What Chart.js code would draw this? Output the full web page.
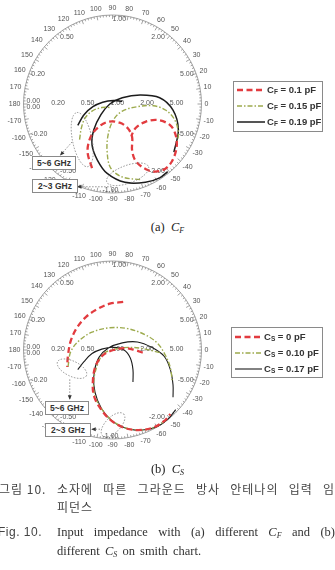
<!DOCTYPE html>
<html>
<head>
<meta charset="utf-8">
<script src="https://cdn.jsdelivr.net/npm/chart.js@4/dist/chart.umd.min.js"></script>
<style>
  body { margin: 0; background: #fff; width: 335px; height: 570px; overflow: hidden; position: relative;
         font-family: "Liberation Sans", Arial, sans-serif; color: #333; }
  canvas { position: absolute; left: 0; }
  #cf { top: 0; }
  #cs { top: 245px; }
  .legend { position: absolute; border: 1px solid #8a8a8a; }
  .row { position: absolute; height: 12px; line-height: 12px; font-size: 9.5px; font-weight: bold; white-space: nowrap; color: #333; }
  .row sub { font-size: 6.5px; vertical-align: -1px; }
  .box { position: absolute; background: #fff; border: 1px solid #8a8a8a; font-size: 8.5px; font-weight: bold;
         text-align: center; line-height: 12px; height: 12px; color: #333; }
  .cap { position: absolute; left: 0; width: 335px; text-align: center; font-family: "Liberation Serif", serif; font-size: 12.5px; line-height: 15px; color: #222; }
  .cap sub, .en sub { font-size: 8px; vertical-align: -2px; }
  .ko { position: absolute; font-family: "Noto Sans CJK KR", sans-serif; font-size: 12px; line-height: 16px; color: #444; letter-spacing: 1px; white-space: nowrap; }
  .en { position: absolute; font-family: "Liberation Serif", serif; font-size: 12.5px; line-height: 16px; color: #333; white-space: nowrap; }
  .just { width: 278px; text-align: justify; text-align-last: justify; }
</style>
</head>
<body>
<canvas id="cf" width="335" height="220"></canvas>
<canvas id="cs" width="335" height="220"></canvas>

<div class="legend" style="left:233px;top:81px;width:88px;height:49px;"></div>
<div class="row" style="left:267px;top:84px;">C<sub>F</sub> = 0.1 pF</div>
<div class="row" style="left:267px;top:100px;">C<sub>F</sub> = 0.15 pF</div>
<div class="row" style="left:267px;top:116px;">C<sub>F</sub> = 0.19 pF</div>

<div class="legend" style="left:231px;top:327px;width:90px;height:49px;"></div>
<div class="row" style="left:264px;top:331px;">C<sub>S</sub> = 0 pF</div>
<div class="row" style="left:264px;top:347px;">C<sub>S</sub> = 0.10 pF</div>
<div class="row" style="left:264px;top:363px;">C<sub>S</sub> = 0.17 pF</div>

<div class="box" style="left:32px;top:156px;width:42px;">5~6 GHz</div>
<div class="box" style="left:32px;top:179px;width:44px;">2~3 GHz</div>
<div class="box" style="left:45px;top:401px;width:42px;">5~6 GHz</div>
<div class="box" style="left:45px;top:423px;width:44px;">2~3 GHz</div>

<div class="cap" style="top:220px;">(a)&nbsp; <i>C<sub>F</sub></i></div>
<div class="cap" style="top:462px;">(b)&nbsp; <i>C<sub>S</sub></i></div>

<div class="ko" style="left:-1px;top:481px;">그림 10.</div>
<div class="ko just" style="left:57px;top:481px;">소자에 따른 그라운드 방사 안테나의 입력 임</div>
<div class="ko" style="left:57px;top:499px;">피던스</div>
<div class="ko" style="left:-2px;top:524px;font-family:'Liberation Sans',Arial,sans-serif;letter-spacing:0.5px;">Fig. 10.</div>
<div class="en just" style="left:57px;top:524px;">Input impedance with (a) different <i>C<sub>F</sub></i> and (b)</div>
<div class="en" style="left:57px;top:543px;word-spacing:2px;">different <i>C<sub>S</sub></i> on smith chart.</div>

<script>
const cfRedRe   = [-0.23, -0.28, -0.25, -0.17, -0.05, 0.08, 0.17, 0.22, 0.22, 0.26, 0.37, 0.48, 0.59, 0.67, 0.72, 0.71, 0.65, 0.51, 0.37, 0.26, 0.21];
const cfRedIm   = [-0.72, -0.54, -0.38, -0.27, -0.20, -0.21, -0.27, -0.37, -0.52, -0.64, -0.73, -0.76, -0.73, -0.64, -0.49, -0.35, -0.24, -0.18, -0.20, -0.27, -0.36];
const cfGreenRe = [0.31, 0.11, -0.02, -0.06, -0.05, 0.01, 0.11, 0.28, 0.46, 0.60, 0.70, 0.74, 0.72, null, -0.37, -0.35, -0.31, -0.23, -0.12, -0.01];
const cfGreenIm = [-0.85, -0.82, -0.72, -0.54, -0.35, -0.18, -0.08, -0.03, -0.02, -0.07, -0.18, -0.33, -0.46, null, -0.40, -0.27, -0.16, -0.08, -0.04, -0.04];
const cfBlackRe = [0.62, 0.53, 0.37, 0.14, -0.06, -0.17, -0.23, -0.21, -0.13, -0.03, 0.11, 0.31, 0.53, 0.68, 0.74, 0.69, null, 0.11, 0.01, -0.11, -0.22, -0.32, -0.39];
const cfBlackIm = [-0.76, -0.83, -0.88, -0.88, -0.78, -0.63, -0.46, -0.29, -0.12, 0.00, 0.07, 0.10, 0.07, -0.07, -0.29, -0.54, null, 0.03, 0.04, 0.02, -0.03, -0.12, -0.24];

const csRedRe   = [0.12, -0.03, -0.17, -0.30, -0.40, -0.47, -0.50, -0.51, null, 0.34, 0.25, 0.14, 0.01, -0.11, -0.19, -0.22, -0.21, -0.14, -0.03, 0.12, 0.29, 0.46, 0.59, 0.65];
const csRedIm   = [0.54, 0.52, 0.46, 0.37, 0.25, 0.10, -0.06, -0.19, null, -0.03, 0.00, 0.02, 0.00, -0.06, -0.18, -0.34, -0.51, -0.65, -0.78, -0.87, -0.90, -0.87, -0.79, -0.72];
const csGreenRe = [-0.50, -0.47, -0.38, -0.23, -0.03, 0.17, 0.37, 0.51, 0.60, 0.65, 0.67, null, 0.53, 0.37, 0.20, 0.03, -0.10, -0.17, -0.21, -0.20, -0.13, -0.02, 0.13, 0.30, 0.47, 0.60];
const csGreenIm = [-0.19, -0.02, 0.10, 0.20, 0.25, 0.24, 0.17, 0.07, -0.07, -0.20, -0.34, null, -0.03, 0.01, 0.03, 0.01, -0.04, -0.17, -0.34, -0.51, -0.65, -0.78, -0.87, -0.90, -0.87, -0.79];
const csBlackRe = [-0.39, -0.32, -0.23, -0.12, 0.01, 0.13, 0.20, 0.23, 0.23, null, 0.68, 0.68, 0.65, 0.58, 0.44, 0.28, 0.11, -0.05, -0.15, -0.20, -0.21, -0.17, -0.08, 0.06, 0.26, 0.48, 0.62, 0.71];
const csBlackIm = [-0.22, -0.13, -0.04, 0.01, 0.03, 0.00, -0.09, -0.22, -0.36, null, -0.53, -0.39, -0.22, -0.07, 0.03, 0.09, 0.08, 0.02, -0.08, -0.22, -0.39, -0.56, -0.72, -0.84, -0.90, -0.87, -0.78, -0.67];

const cfValues = ['0.1', '0.15', '0.19'];
const csValues = ['0', '0.10', '0.17'];

// smith chart labels
const angleTicks = [0, 10, 20, 30, 40, 50, 60, 70, 80, 90, 100, 110, 120, 130, 140, 150, 160, 170, 180,
  -170, -160, -150, -140, -130, -120, -110, -100, -90, -80, -70, -60, -50, -40, -30, -20, -10];
const rTicks = ['0.20', '0.50', '1.00', '2.00', '5.00'];

const smithPlugin = {
  id: 'smith',
  beforeDatasetsDraw(chart, args, o) {
    const ctx = chart.ctx, xs = chart.scales.x, ys = chart.scales.y;
    const cx = xs.getPixelForValue(0), cy = ys.getPixelForValue(0);
    const R = xs.getPixelForValue(1) - cx;
    ctx.save();
    ctx.strokeStyle = '#8c8c8c';
    ctx.lineWidth = 0.8;
    ctx.beginPath();
    ctx.arc(cx, cy, R, 0, 2 * Math.PI);
    ctx.stroke();
    ctx.beginPath();
    for (let a = 0; a < 360; a += 2) {
      const t = a * Math.PI / 180, len = a % 10 === 0 ? 4 : 2;
      ctx.moveTo(cx + R * Math.cos(t), cy - R * Math.sin(t));
      ctx.lineTo(cx + (R - len) * Math.cos(t), cy - (R - len) * Math.sin(t));
    }
    ctx.stroke();

    ctx.fillStyle = '#555';
    ctx.font = '7px "Liberation Sans", Arial, sans-serif';
    ctx.textBaseline = 'middle';
    ctx.textAlign = 'center';
    angleTicks.forEach(a => {
      const t = a * Math.PI / 180, s = String(a), w = ctx.measureText(s).width;
      const r = R + 3 + Math.abs(Math.cos(t)) * w / 2 + Math.abs(Math.sin(t)) * 3.5;
      ctx.fillText(s, cx + r * Math.cos(t), cy - r * Math.sin(t));
    });

    // resistance labels on the real axis
    ctx.textAlign = 'left';
    rTicks.forEach(s => {
      const r = parseFloat(s), g = (r - 1) / (r + 1);
      ctx.fillText(s, cx + g * R - 2, cy - 1);
    });
    ctx.fillText('0.00', cx - R + 3, cy - 3);
    ctx.fillText('0.00', cx - R + 3, cy + 3);

    // reactance labels on the rim
    rTicks.forEach(s => {
      const x = parseFloat(s), t = Math.PI - 2 * Math.atan(x);
      const px = cx + R * Math.cos(t), dy = R * Math.sin(t);
      if (x > 1) {
        ctx.textAlign = 'right';
        ctx.fillText(s, px - 1, cy - dy + 4);
        ctx.fillText('-' + s, px - 1, cy + dy - 4);
      } else if (x === 1) {
        ctx.textAlign = 'left';
        ctx.fillText(s, px, cy - dy + 4);
        ctx.textAlign = 'center';
        ctx.fillText('-' + s, px - 2, cy + dy - 3);
      } else {
        ctx.textAlign = 'left';
        ctx.fillText(s, px + 1, cy - dy + 4);
        ctx.fillText('-' + s, px + 1, cy + dy - 4);
      }
    });
    ctx.restore();
  },
  afterDatasetsDraw(chart, args, o) {
    const ctx = chart.ctx, xs = chart.scales.x, ys = chart.scales.y;
    const px = v => xs.getPixelForValue(v), py = v => ys.getPixelForValue(v);
    const k = px(1) - px(0);
    ctx.save();
    ctx.strokeStyle = '#777';
    ctx.fillStyle = '#333';
    ctx.lineWidth = 0.8;
    o.ellipses.forEach(e => {
      ctx.setLineDash([1.5, 1.5]);
      ctx.beginPath();
      ctx.ellipse(px(e.re), py(e.im), e.rx * k, e.ry * k, e.rot, 0, 2 * Math.PI);
      ctx.stroke();
    });
    o.arrows.forEach(a => {
      const x0 = px(a.from[0]), y0 = py(a.from[1]), x1 = px(a.to[0]), y1 = py(a.to[1]);
      ctx.setLineDash([1.5, 1.5]);
      ctx.beginPath();
      ctx.moveTo(x0, y0);
      ctx.lineTo(x1, y1);
      ctx.stroke();
      const ang = Math.atan2(y1 - y0, x1 - x0);
      ctx.setLineDash([]);
      ctx.beginPath();
      ctx.moveTo(x1, y1);
      ctx.lineTo(x1 - 5 * Math.cos(ang - 0.4), y1 - 5 * Math.sin(ang - 0.4));
      ctx.lineTo(x1 - 5 * Math.cos(ang + 0.4), y1 - 5 * Math.sin(ang + 0.4));
      ctx.closePath();
      ctx.fill();
    });
    // legend line samples
    chart.data.datasets.forEach((d, i) => {
      ctx.strokeStyle = d.borderColor;
      ctx.lineWidth = d.borderWidth;
      ctx.setLineDash(d.borderDash || []);
      ctx.beginPath();
      ctx.moveTo(o.legend.x0, o.legend.rows[i]);
      ctx.lineTo(o.legend.x1, o.legend.rows[i]);
      ctx.stroke();
    });
    ctx.restore();
  }
};

function points(re, im) {
  return re.map((v, i) => ({ x: v, y: im[i] }));
}

function line(label, re, im, color, width, dash) {
  return {
    label: label, data: points(re, im), showLine: true, borderColor: color, borderWidth: width,
    borderDash: dash, pointRadius: 0, tension: 0.35, spanGaps: false, clip: false
  };
}

function smithChart(id, datasets, cy, smithOpts) {
  const W = 335, H = 220, cx = 112.5, R = 89;
  return new Chart(document.getElementById(id), {
    type: 'scatter',
    data: { datasets: datasets },
    options: {
      responsive: false,
      animation: false,
      devicePixelRatio: 1,
      layout: { padding: 0 },
      scales: {
        x: { type: 'linear', display: false, min: -cx / R, max: (W - cx) / R },
        y: { type: 'linear', display: false, min: -(H - cy) / R, max: cy / R }
      },
      plugins: { legend: { display: false }, tooltip: { enabled: false }, smith: smithOpts }
    },
    plugins: [smithPlugin]
  });
}

const red = '#e23b3f', green = '#9dab4e', black = '#1c1c1c';

smithChart('cf', [
  line('CF = ' + cfValues[0] + ' pF', cfRedRe, cfRedIm, red, 2.3, [6, 3.5]),
  line('CF = ' + cfValues[1] + ' pF', cfGreenRe, cfGreenIm, green, 1.4, [5, 2, 1.5, 2]),
  line('CF = ' + cfValues[2] + ' pF', cfBlackRe, cfBlackIm, black, 1.5, [])
], 104, {
  ellipses: [
    { re: -0.34, im: -0.40, rx: 0.11, ry: 0.31, rot: -0.2 },
    { re: 0.17, im: -0.79, rx: 0.25, ry: 0.10, rot: -0.35 }
  ],
  arrows: [
    { from: [-0.455, -0.427], to: [-0.59, -0.58] },
    { from: [-0.01, -0.93], to: [-0.40, -0.93] }
  ],
  legend: { x0: 237, x1: 265, rows: [90, 106, 122] }
});

smithChart('cs', [
  line('CS = ' + csValues[0] + ' pF', csRedRe, csRedIm, red, 2.3, [6, 3.5]),
  line('CS = ' + csValues[1] + ' pF', csGreenRe, csGreenIm, green, 1.4, [5, 2, 1.5, 2]),
  line('CS = ' + csValues[2] + ' pF', csBlackRe, csBlackIm, black, 1.1, [])
], 105, {
  ellipses: [
    { re: -0.455, im: -0.21, rx: 0.18, ry: 0.085, rot: 0.45 },
    { re: 0.006, im: -0.84, rx: 0.17, ry: 0.085, rot: -0.8 }
  ],
  arrows: [
    { from: [-0.48, -0.33], to: [-0.48, -0.56] },
    { from: [-0.14, -0.89], to: [-0.24, -0.89] }
  ],
  legend: { x0: 235, x1: 262, rows: [92, 108, 124] }
});
</script>
</body>
</html>
